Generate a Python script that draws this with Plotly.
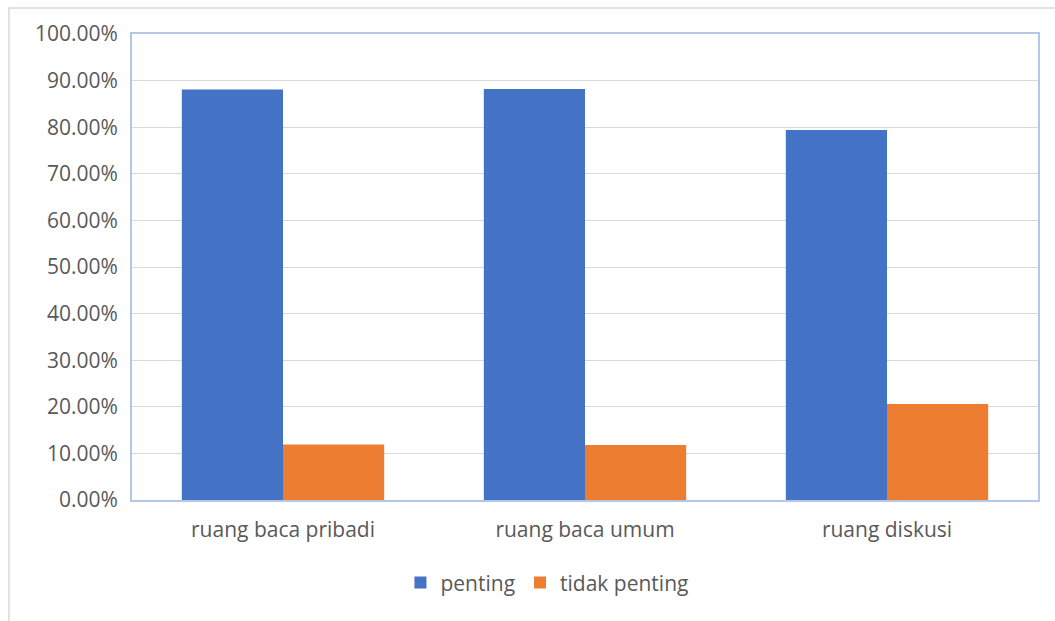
import plotly.graph_objects as go

categories = ["ruang baca pribadi", "ruang baca umum", "ruang diskusi"]
penting = [88.1, 88.2, 79.4]
tidak_penting = [11.9, 11.8, 20.6]
y_ticks = [0, 10, 20, 30, 40, 50, 60, 70, 80, 90, 100]

fig = go.Figure()
fig.add_trace(go.Bar(name="penting", x=categories, y=penting,
                     marker=dict(color="#4472C4", line=dict(width=0))))
fig.add_trace(go.Bar(name="tidak penting", x=categories, y=tidak_penting,
                     marker=dict(color="#ED7D31", line=dict(width=0))))

font_family = "Open Sans, Noto Sans, sans-serif"
fig.update_layout(
    width=1055, height=621,
    margin=dict(l=132, r=17, t=34, b=121),
    paper_bgcolor="white", plot_bgcolor="white",
    barmode="group", bargap=0.33, bargroupgap=0,
    font=dict(family=font_family, size=21, color="#595959"),
    legend=dict(orientation="h", x=0.458, xanchor="center", y=-0.178, yanchor="middle",
                font=dict(size=21, color="#595959"), itemwidth=30,
                traceorder="normal"),
    showlegend=True,
)
fig.update_yaxes(range=[0, 100], tickvals=y_ticks,
                 ticktext=[f"{v:.2f}%" for v in y_ticks],
                 showgrid=True, gridcolor="#d9d9d9", gridwidth=1,
                 showline=True, linecolor="#b4c7e7", linewidth=2, mirror=True,
                 ticks="", ticklabelstandoff=8, zeroline=False,
                 tickfont=dict(size=21, color="#595959"))
fig.update_xaxes(showline=True, linecolor="#b4c7e7", linewidth=2, mirror=True,
                 ticks="", ticklabelstandoff=10,
                 tickfont=dict(size=21, color="#595959"))

# outer chart frame
fig.add_shape(type="rect", xref="paper", yref="paper",
              x0=(9 - 132) / 906, x1=(1070 - 132) / 906,
              y0=(500 - 640) / 466, y1=(500 - 8) / 466,
              line=dict(color="#d9d9d9", width=1.5), layer="below")

fig.write_html("out.html")
